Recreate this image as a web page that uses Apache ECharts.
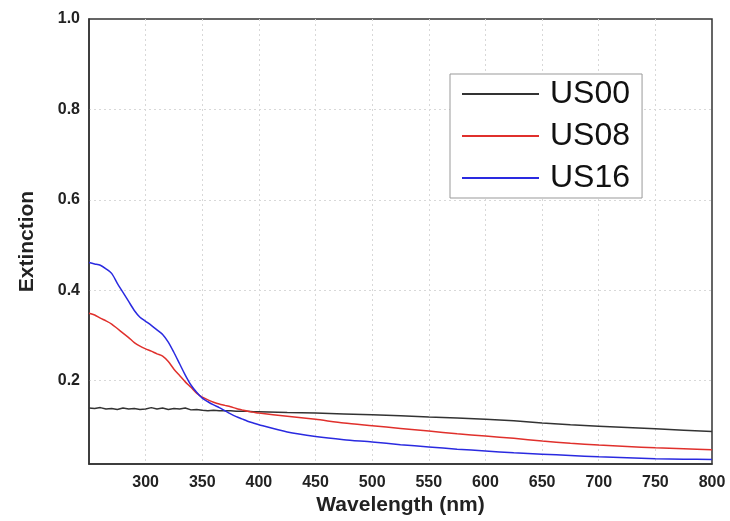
<!DOCTYPE html>
<html>
<head>
<meta charset="utf-8">
<script src="https://cdn.jsdelivr.net/npm/echarts@6/dist/echarts.min.js"></script>
<style>
  html, body { margin: 0; padding: 0; background: #fff; }
  #main { width: 730px; height: 521px; }
</style>
</head>
<body>
<div id="main"></div>
<script>
// wavelength (nm)
var wavelength = [250, 255, 260, 265, 270, 275, 280, 285, 290, 295, 300, 305, 310, 315, 320, 325, 330, 335, 340, 345,
  350, 355, 360, 365, 370, 375, 380, 385, 390, 395, 400,
  425, 450, 475, 500, 525, 550, 575, 600, 625, 650, 675, 700, 725, 750, 775, 800];

var us00 = [0.139, 0.138, 0.140, 0.137, 0.138, 0.136, 0.139, 0.137, 0.138, 0.136, 0.137, 0.140, 0.137, 0.139, 0.136, 0.138, 0.137, 0.139, 0.135, 0.136,
  0.134, 0.133, 0.134, 0.133, 0.133, 0.133, 0.132, 0.132, 0.132, 0.131, 0.131,
  0.129, 0.128, 0.126, 0.124, 0.122, 0.119, 0.117, 0.114, 0.111, 0.106, 0.102, 0.099, 0.096, 0.093, 0.090, 0.087];

var us08 = [0.349, 0.345, 0.338, 0.332, 0.325, 0.315, 0.305, 0.295, 0.284, 0.276, 0.270, 0.265, 0.259, 0.254, 0.242, 0.225, 0.211, 0.197, 0.185, 0.172,
  0.163, 0.157, 0.152, 0.148, 0.145, 0.142, 0.138, 0.135, 0.132, 0.130, 0.128,
  0.121, 0.114, 0.106, 0.100, 0.094, 0.088, 0.082, 0.077, 0.072, 0.066, 0.061, 0.057, 0.054, 0.051, 0.049, 0.047];

var us16 = [0.461, 0.458, 0.455, 0.447, 0.437, 0.415, 0.395, 0.375, 0.355, 0.340, 0.331, 0.322, 0.312, 0.302, 0.285, 0.262, 0.237, 0.212, 0.190, 0.174,
  0.161, 0.153, 0.146, 0.140, 0.133, 0.126, 0.120, 0.115, 0.110, 0.106, 0.102,
  0.086, 0.076, 0.069, 0.064, 0.058, 0.053, 0.048, 0.044, 0.040, 0.037, 0.034, 0.031, 0.029, 0.027, 0.026, 0.025];

var xTicks = [300, 350, 400, 450, 500, 550, 600, 650, 700, 750, 800];
var yTicks = [0.2, 0.4, 0.6, 0.8, 1.0];
// grid lines stop short of the frame
var xGrid = [300, 350, 400, 450, 500, 550, 600, 650, 700, 750];
var yGrid = [0.2, 0.4, 0.6, 0.8];

function pairs(ys) {
  var out = [];
  for (var i = 0; i < wavelength.length; i++) out.push([wavelength[i], ys[i]]);
  return out;
}

var chart = echarts.init(document.getElementById('main'));

var gridLine = { show: true, lineStyle: { color: '#d8d8d8', type: [2, 3], width: 1 } };

var option = {
  animation: false,
  grid: {
    left: 89, right: 18, top: 19, bottom: 52,
    show: true, borderColor: '#333', borderWidth: 1.5
  },
  legend: {
    orient: 'vertical',
    left: 450, top: 74,
    padding: [3, 12, 3, 12],
    itemGap: 8,
    itemWidth: 77,
    itemHeight: 2,
    icon: 'rect',
    backgroundColor: '#fff',
    borderColor: '#999',
    borderWidth: 1,
    borderRadius: 0,
    textStyle: { fontFamily: 'Liberation Sans', fontSize: 32, color: '#111', lineHeight: 34, padding: [0, 0, 0, 6] },
    data: ['US00', 'US08', 'US16']
  },
  xAxis: {
    type: 'value',
    min: 250, max: 800, interval: 50,
    name: 'Wavelength (nm)',
    nameLocation: 'middle',
    nameGap: 28,
    nameTextStyle: { fontFamily: 'Liberation Sans', fontSize: 21, fontWeight: 'bold', color: '#222' },
    axisLine: { show: true, onZero: false, lineStyle: { color: '#333', width: 1.5 } },
    axisTick: { show: false, customValues: xGrid },
    axisLabel: {
      fontFamily: 'Liberation Sans', fontSize: 16, fontWeight: 'bold', color: '#222', margin: 10,
      customValues: xTicks
    },
    splitLine: gridLine
  },
  yAxis: {
    type: 'value',
    min: 0.015, max: 1.0,
    name: 'Extinction',
    nameLocation: 'middle',
    nameRotate: 90,
    nameGap: 51,
    nameTextStyle: { fontFamily: 'Liberation Sans', fontSize: 21, fontWeight: 'bold', color: '#222' },
    axisLine: { show: true, onZero: false, lineStyle: { color: '#333', width: 1.5 } },
    axisTick: { show: false, customValues: yGrid },
    axisLabel: {
      fontFamily: 'Liberation Sans', fontSize: 16, fontWeight: 'bold', color: '#222', margin: 9,
      customValues: yTicks,
      formatter: function (v) { return v.toFixed(1); }
    },
    splitLine: gridLine
  },
  series: [
    { name: 'US00', type: 'line', data: pairs(us00), showSymbol: false, color: '#333',
      lineStyle: { width: 1.5, color: '#333' } },
    { name: 'US08', type: 'line', data: pairs(us08), showSymbol: false, smooth: 0.25, color: '#e0302c',
      lineStyle: { width: 1.5, color: '#e0302c' } },
    { name: 'US16', type: 'line', data: pairs(us16), showSymbol: false, smooth: 0.25, color: '#2a2ae0',
      lineStyle: { width: 1.5, color: '#2a2ae0' } }
  ]
};

chart.setOption(option);
</script>
</body>
</html>
